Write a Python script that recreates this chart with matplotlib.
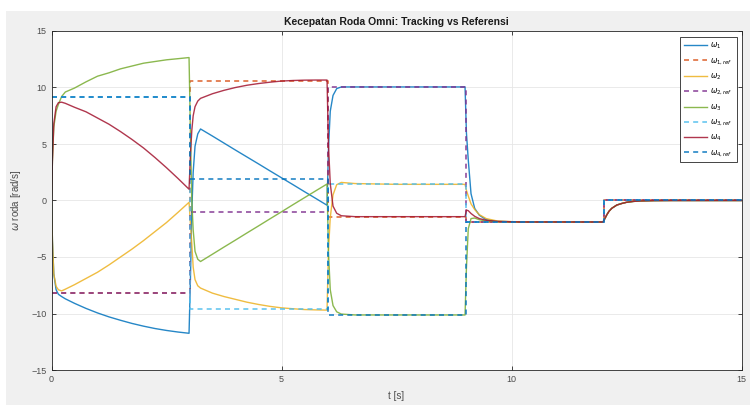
import numpy as np
import matplotlib
matplotlib.use('Agg')
import matplotlib.pyplot as plt
from matplotlib.patches import Rectangle

# time samples (s)
t = [0, 0.02, 0.05, 0.1, 0.15, 0.22, 0.3, 0.5, 0.75, 1.0, 1.25, 1.5, 1.75, 2.0, 2.25, 2.5, 2.75, 2.99,
     3.02, 3.05, 3.08, 3.12, 3.18, 3.24, 3.5, 3.75, 4.0, 4.25, 4.5, 4.75, 5.0, 5.25, 5.5, 5.75, 5.99,
     6.02, 6.06, 6.12, 6.2, 6.3, 6.6, 7.5, 8.99,
     9.02, 9.06, 9.12, 9.2, 9.3, 9.45, 9.7, 10.2, 11.99,
     12.03, 12.07, 12.12, 12.18, 12.29, 12.4, 12.5, 12.65, 12.8, 13.1, 13.5, 15]

# actual wheel speeds (rad/s)
w1 = [0, -3.5, -6.5, -7.9, -8.3, -8.5, -8.7, -9.1, -9.55, -9.95, -10.3, -10.6, -10.88, -11.12, -11.33, -11.5, -11.64, -11.75,
      -7.0, -1.0, 2.5, 4.8, 5.9, 6.33, 5.7, 5.08, 4.46, 3.85, 3.24, 2.62, 2.01, 1.4, 0.78, 0.17, -0.42,
      4.5, 7.9, 9.3, 9.9, 10.05, 10.05, 10.05, 10.05,
      6.0, 3.6, 0.6, -0.7, -1.3, -1.7, -1.85, -1.9, -1.9,
      -1.6, -1.28, -0.95, -0.69, -0.4, -0.26, -0.16, -0.08, -0.04, -0.01, 0, 0]
w2 = [0, -3.5, -6.5, -7.6, -7.9, -8.0, -7.85, -7.45, -6.9, -6.35, -5.7, -5.0, -4.3, -3.55, -2.75, -1.95, -1.05, -0.16,
      -2.0, -3.8, -5.9, -7.0, -7.55, -7.75, -8.2, -8.5, -8.75, -9.0, -9.2, -9.37, -9.5, -9.58, -9.65, -9.68, -9.7,
      -4.5, -1.5, 0.5, 1.4, 1.6, 1.5, 1.43, 1.43,
      0.9, 0.4, -0.3, -0.8, -1.25, -1.6, -1.82, -1.9, -1.9,
      -1.6, -1.28, -0.95, -0.69, -0.4, -0.26, -0.16, -0.08, -0.04, -0.01, 0, 0]
w3 = [0, 3.5, 6.5, 7.9, 8.5, 9.2, 9.6, 9.95, 10.5, 11.0, 11.3, 11.65, 11.9, 12.15, 12.3, 12.45, 12.55, 12.65,
      6.0, 0.0, -2.6, -4.5, -5.2, -5.4, -4.75, -4.12, -3.5, -2.87, -2.25, -1.62, -1.0, -0.37, 0.25, 0.87, 1.46,
      -4.5, -7.9, -9.3, -9.85, -10.05, -10.13, -10.13, -10.13,
      -6.0, -2.5, -1.6, -1.55, -1.7, -1.82, -1.88, -1.9, -1.9,
      -1.6, -1.28, -0.95, -0.69, -0.4, -0.26, -0.16, -0.08, -0.04, -0.01, 0, 0]
w4 = [0, 3.5, 6.8, 8.3, 8.66, 8.7, 8.6, 8.25, 7.85, 7.3, 6.75, 6.1, 5.4, 4.65, 3.8, 2.9, 1.95, 1.0,
      4.0, 6.2, 7.5, 8.3, 8.8, 9.04, 9.45, 9.75, 10.0, 10.2, 10.35, 10.47, 10.57, 10.62, 10.65, 10.66, 10.66,
      5.0, 1.5, -0.5, -1.13, -1.35, -1.43, -1.43, -1.43,
      -0.85, -0.9, -1.15, -1.4, -1.6, -1.75, -1.85, -1.9, -1.9,
      -1.6, -1.28, -0.95, -0.69, -0.4, -0.26, -0.16, -0.08, -0.04, -0.01, 0, 0]

# reference steps
t_ref = [0, 3, 6, 9, 12, 15]
w1_ref = [-8.2, 10.6, -1.45, -1.9, 0, 0]
w2_ref = [-8.2, -1.0, 10.07, -1.9, 0, 0]
w3_ref = [9.13, -9.6, 1.43, -1.9, 0, 0]
w4_ref = [9.13, 1.93, -10.15, -1.9, 0, 0]

blue = '#0072BD'
orange = '#D95319'
yellow = '#EDB120'
purple = '#7E2F8E'
green = '#77AC30'
lblue = '#4DBEEE'
red = '#A2142F'

plt.rcParams['font.family'] = 'Liberation Sans'

fig = plt.figure(figsize=(7.55, 4.05), dpi=100)
fig.patch.set_facecolor('white')
fig.patches.append(Rectangle((6 / 755, 0), 744 / 755, 1 - 11 / 405,
                             transform=fig.transFigure, facecolor='#f0f0f0',
                             edgecolor='none', zorder=-10))
ax = fig.add_axes([51.5 / 755, 1 - 370 / 405, 690 / 755, 339 / 405])

lw = 1.0
lwr = 1.2
al = 0.85
dash = (0, (3, 2.5))
ax.plot(t, w1, color=blue, lw=lw, alpha=al, label=r'$\omega_1$')
ax.plot(t_ref, w1_ref, color=orange, lw=lwr, alpha=al, ls=dash, drawstyle='steps-post', label=r'$\omega_{1,ref}$')
ax.plot(t, w2, color=yellow, lw=lw, alpha=al, label=r'$\omega_2$')
ax.plot(t_ref, w2_ref, color=purple, lw=lwr, alpha=al, ls=dash, drawstyle='steps-post', label=r'$\omega_{2,ref}$')
ax.plot(t, w3, color=green, lw=lw, alpha=al, label=r'$\omega_3$')
ax.plot(t_ref, w3_ref, color=lblue, lw=lwr, alpha=al, ls=dash, drawstyle='steps-post', label=r'$\omega_{3,ref}$')
ax.plot(t, w4, color=red, lw=lw, alpha=al, label=r'$\omega_4$')
ax.plot(t_ref, w4_ref, color=blue, lw=lwr, alpha=al, ls=dash, drawstyle='steps-post', label=r'$\omega_{4,ref}$')

ax.set_xlim(0, 15)
ax.set_ylim(-15, 15)
ax.set_xticks([0, 5, 10, 15])
ax.set_yticks([-15, -10, -5, 0, 5, 10, 15])
ax.grid(True, color='#e6e6e6', lw=0.6)
ax.set_axisbelow(True)
ax.tick_params(direction='in', length=3, width=0.6, labelsize=6.5,
               colors='#262626', labelcolor='#4d4d4d', top=True, right=True)
for s in ax.spines.values():
    s.set_color('#262626')
    s.set_linewidth(0.6)

ax.set_xlabel('t [s]', fontsize=7, color='#4d4d4d', labelpad=5)
ax.set_ylabel(r'$\omega$ roda [rad/s]', fontsize=7, color='#4d4d4d', labelpad=6)
ax.set_title('Kecepatan Roda Omni: Tracking vs Referensi', fontsize=7.5,
             fontweight='bold', color='#1a1a1a', pad=4)

leg = ax.legend(loc='upper right', bbox_to_anchor=(0.9985, 0.9935), fontsize=5.5,
                handlelength=3.0, labelspacing=0.65, borderpad=0.5,
                handletextpad=0.4, fancybox=False, framealpha=1)
leg.get_frame().set_edgecolor('#262626')
leg.get_frame().set_linewidth(0.6)

fig.savefig('out.png', dpi=100, facecolor=fig.get_facecolor())
